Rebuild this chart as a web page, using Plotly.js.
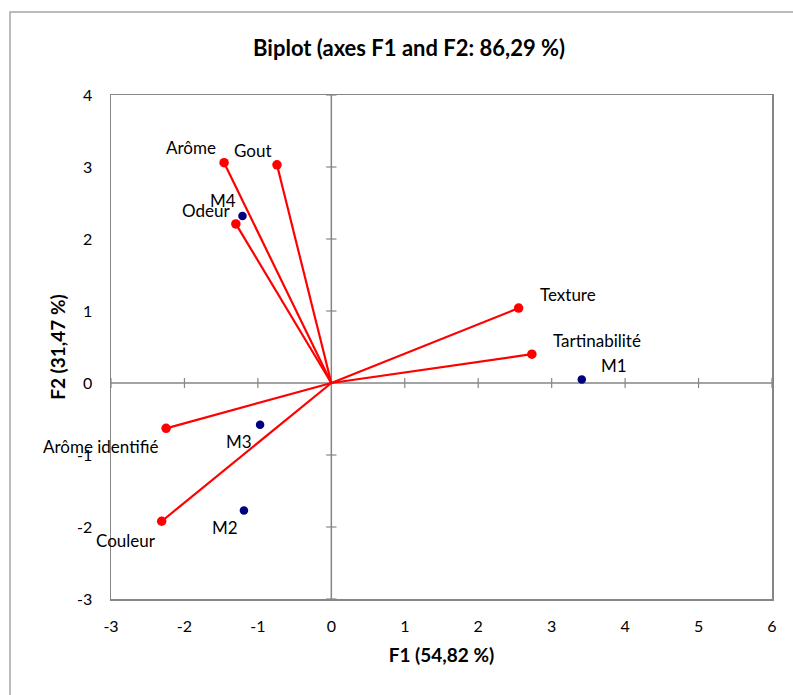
<!DOCTYPE html>
<html><head><meta charset="utf-8">
<script src="https://cdn.plot.ly/plotly-3.0.1.min.js"></script>
<style>body{margin:0;background:#fff}#c{width:793px;height:695px}</style>
</head><body><div id="c"></div>
<script>
// Variables (loadings)
const varNames = ["Arôme", "Gout", "Odeur", "Texture", "Tartinabilité", "Arôme identifié", "Couleur"];
const varF1 = [-1.46, -0.74, -1.30, 2.55, 2.73, -2.25, -2.31];
const varF2 = [3.06, 3.03, 2.21, 1.04, 0.40, -0.63, -1.92];
// Observations
const obsNames = ["M1", "M2", "M3", "M4"];
const obsF1 = [3.41, -1.19, -0.97, -1.21];
const obsF2 = [0.05, -1.77, -0.58, 2.32];
// Axis ticks
const xTicks = [-3, -2, -1, 0, 1, 2, 3, 4, 5, 6];
const yTicks = [-3, -2, -1, 0, 1, 2, 3, 4];

// label offsets (px) for annotations: [dx, dy] of label center from point
const varOff = [[-33, 15], [-24, 14], [-30, 13], [49, 14], [65, 14], [-66, -18], [-36, -19]];
const obsOff = [[32, 14], [-19, -17], [-21, -17], [-19, 15]];

const font = "Lato, 'Open Sans', sans-serif";
const traces = [];
varNames.forEach((n, i) => {
  traces.push({x: [0, varF1[i]], y: [0, varF2[i]], mode: 'lines', type: 'scatter',
    line: {color: '#ff0000', width: 2.2}, hoverinfo: 'skip', showlegend: false});
});
traces.push({x: varF1, y: varF2, mode: 'markers', type: 'scatter', text: varNames,
  marker: {color: '#ff0000', size: 9.5}, showlegend: false});
traces.push({x: obsF1, y: obsF2, mode: 'markers', type: 'scatter', text: obsNames,
  marker: {color: '#000080', size: 8.5}, showlegend: false});

const annotations = [];
varNames.forEach((n, i) => annotations.push({x: varF1[i], y: varF2[i], text: n, showarrow: false,
  xshift: varOff[i][0], yshift: varOff[i][1], font: {family: font, size: 17, color: '#000'}}));
obsNames.forEach((n, i) => annotations.push({x: obsF1[i], y: obsF2[i], text: n, showarrow: false,
  xshift: obsOff[i][0], yshift: obsOff[i][1], font: {family: font, size: 17, color: '#000'}}));

const shapes = [
  {type: 'rect', xref: 'paper', yref: 'paper', x0: -0.1528, x1: 1.06, y0: -0.25, y1: 1.1647,
   line: {color: '#a6a6a6', width: 1.5}, layer: 'below'},
  {type: 'line', xref: 'x', yref: 'paper', x0: 0, x1: 0, y0: 0, y1: 1, line: {color: '#868686', width: 1.5}, layer: 'below'},
  {type: 'line', xref: 'paper', yref: 'y', x0: 0, x1: 1, y0: 0, y1: 0, line: {color: '#868686', width: 1.5}, layer: 'below'}
];
xTicks.forEach(t => { if (t !== 0) shapes.push({type: 'line', xref: 'x', yref: 'y', x0: t, x1: t, y0: -0.07, y1: 0.07,
  line: {color: '#868686', width: 1.2}, layer: 'below'}); });
yTicks.forEach(t => { if (t !== 0) shapes.push({type: 'line', xref: 'x', yref: 'y', x0: -0.07, x1: 0.07, y0: t, y1: t,
  line: {color: '#868686', width: 1.2}, layer: 'below'}); });

const layout = {
  width: 793, height: 695,
  margin: {l: 111, r: 21, t: 95, b: 96},
  paper_bgcolor: '#fff', plot_bgcolor: '#fff',
  font: {family: font, size: 16, color: '#000'},
  title: {text: '<b>Biplot (axes F1 and F2: 86,29 %)</b>', xref: 'paper', x: 0.451, xanchor: 'center', y: 0.931, yanchor: 'middle',
    font: {family: font, size: 22, color: '#000'}},
  xaxis: {range: [-3, 6], tickvals: xTicks, ticktext: xTicks.map(String), showgrid: false, zeroline: false,
    showline: true, mirror: true, linecolor: '#868686', linewidth: 1.5,
    ticks: 'outside', ticklen: 12, tickcolor: 'rgba(0,0,0,0)', tickfont: {family: font, size: 16},
    title: {text: '<b>F1 (54,82 %)</b>', standoff: 15, font: {family: font, size: 19}}},
  yaxis: {range: [-3, 4], tickvals: yTicks, ticktext: yTicks.map(String), showgrid: false, zeroline: false,
    showline: true, mirror: true, linecolor: '#868686', linewidth: 1.5,
    ticks: 'outside', ticklen: 14, tickcolor: 'rgba(0,0,0,0)', tickfont: {family: font, size: 16},
    title: {text: '<b>F2 (31,47 %)</b>', standoff: 6, font: {family: font, size: 19}}},
  shapes: shapes, annotations: annotations, showlegend: false
};
Plotly.newPlot('c', traces, layout, {displayModeBar: false, staticPlot: true});
</script></body></html>
